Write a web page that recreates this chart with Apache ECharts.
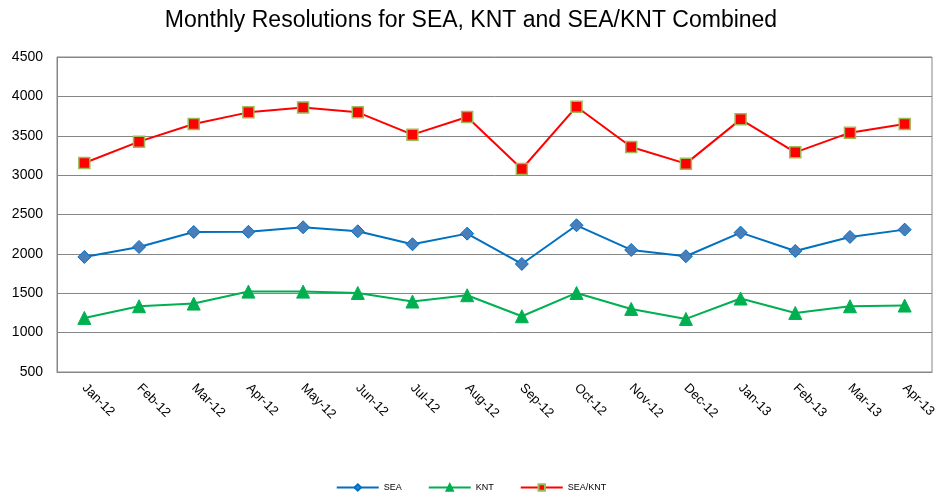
<!DOCTYPE html>
<html><head><meta charset="utf-8">
<script src="https://cdn.jsdelivr.net/npm/echarts@6/dist/echarts.min.js"></script>
<style>html,body{margin:0;padding:0;background:#fff}#c{width:942px;height:501px}</style>
</head><body><div id="c"></div>
<script>
const categories = ['Jan-12','Feb-12','Mar-12','Apr-12','May-12','Jun-12','Jul-12','Aug-12','Sep-12','Oct-12','Nov-12','Dec-12','Jan-13','Feb-13','Mar-13','Apr-13'];
const sea = [1961,2088,2278,2280,2338,2287,2122,2257,1872,2363,2050,1970,2270,2037,2215,2308];
const knt = [1187,1335,1369,1521,1521,1504,1395,1475,1208,1504,1301,1174,1433,1250,1335,1344];
const seaKnt = [3154,3425,3649,3797,3860,3797,3514,3738,3078,3869,3357,3146,3708,3289,3539,3649];
const yTicks = [500,1000,1500,2000,2500,3000,3500,4000,4500];

const font = 'Liberation Sans, Arial, sans-serif';
const chart = echarts.init(document.getElementById('c'), null, {renderer:'canvas'});
chart.setOption({
  animation:false,
  title:{text:'Monthly Resolutions for SEA, KNT and SEA/KNT Combined', left:'center', top:4,
    textStyle:{fontFamily:font, fontSize:23, fontWeight:'normal', color:'#000'}},
  grid:{left:57, right:10, top:57, bottom:129, show:true, borderColor:'#868686', borderWidth:1},
  legend:{bottom:4, left:'center', itemWidth:42, itemHeight:8, itemGap:26,
    textStyle:{fontFamily:font, fontSize:9, color:'#000'},
    data:['SEA','KNT','SEA/KNT']},
  xAxis:{type:'category', data:categories, boundaryGap:true,
    axisLine:{lineStyle:{color:'#868686', width:1}}, axisTick:{show:false},
    axisLabel:{rotate:-45, fontFamily:font, fontSize:13, color:'#000', margin:14, interval:0}},
  yAxis:{type:'value', min:yTicks[0], max:yTicks[yTicks.length-1], interval:500,
    axisLine:{show:true, lineStyle:{color:'#868686'}}, axisTick:{show:false},
    splitLine:{lineStyle:{color:'#868686', width:1}},
    axisLabel:{fontFamily:font, fontSize:14, color:'#000', margin:14, formatter:v=>String(v)}},
  series:[
    {name:'SEA', type:'line', data:sea, symbol:'diamond', symbolSize:13,
      lineStyle:{color:'#0070C0', width:2},
      itemStyle:{color:'#4A7EBB', borderColor:'#0070C0', borderWidth:1}},
    {name:'KNT', type:'line', data:knt, symbol:'triangle', symbolSize:13,
      lineStyle:{color:'#00B050', width:2},
      itemStyle:{color:'#00B050', borderColor:'#00B050', borderWidth:1}},
    {name:'SEA/KNT', type:'line', data:seaKnt, symbol:'rect', symbolSize:11,
      lineStyle:{color:'#FF0000', width:2},
      itemStyle:{color:'#FF0000', borderColor:'#9BBB59', borderWidth:1.5}}
  ]
});
</script></body></html>
